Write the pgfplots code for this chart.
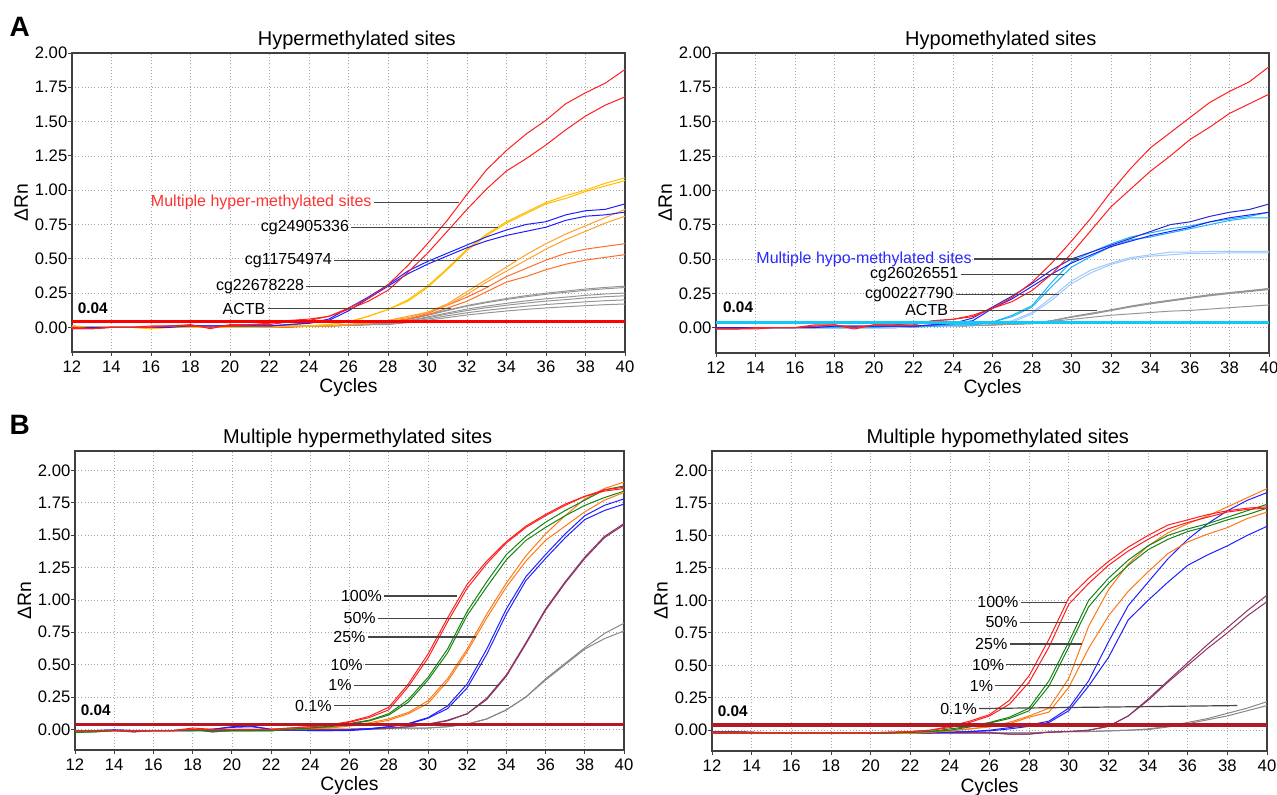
\documentclass[border=0pt]{standalone}
\usepackage{fontspec}
\setmainfont{Liberation Sans}
\usepackage{pgfplots}
\usepackage{pgfplotstable}
\pgfplotsset{compat=1.18}

\definecolor{cRed}{RGB}{255,30,30}
\definecolor{cBlue}{RGB}{30,30,255}
\definecolor{cGold}{RGB}{255,190,0}
\definecolor{cLOr}{RGB}{255,160,40}
\definecolor{cDOr}{RGB}{255,110,40}
\definecolor{cGray}{RGB}{150,150,150}
\definecolor{cCyan}{RGB}{30,180,245}
\definecolor{cPale}{RGB}{160,200,250}
\definecolor{cNavy}{RGB}{40,40,210}
\definecolor{cThrA}{RGB}{255,0,0}
\definecolor{cThrC}{RGB}{20,200,245}
\definecolor{cGreen}{RGB}{20,130,20}
\definecolor{cOrange}{RGB}{255,120,20}
\definecolor{cPurple}{RGB}{140,50,100}
\definecolor{cThrB}{RGB}{180,25,35}
\definecolor{cAnn}{RGB}{70,70,70}
\definecolor{cHyper}{RGB}{255,50,50}
\definecolor{cHypo}{RGB}{40,40,255}

% Panel A left: Hypermethylated sites
\pgfplotstableread{
c r1 r2 b1 b2 y1 y2 o1 o2 d1 d2 g1 g2 g3 g4 g5 g6
12 -0.01 0.00 -0.01 -0.01 0.00 0.00 0.01 0.00 0.00 0.01 0.00 0.00 0.00 0.00 0.00 0.00
13 -0.01 -0.01 0.00 -0.01 0.00 0.00 0.00 0.00 0.00 0.00 0.00 0.00 0.00 0.00 0.00 0.00
14 0.00 0.00 0.00 0.00 0.00 0.00 0.00 0.00 0.00 0.00 0.00 0.00 0.00 0.00 0.00 0.00
15 0.00 0.00 0.00 0.00 0.00 0.00 0.00 0.00 0.00 0.00 0.00 0.00 0.00 0.00 0.00 0.00
16 0.00 0.01 0.00 0.00 -0.01 -0.01 0.00 0.00 0.00 0.00 0.00 0.00 0.00 0.00 0.00 0.00
17 0.01 0.01 0.01 0.00 0.00 0.00 0.00 0.00 0.00 0.00 0.00 0.00 0.00 0.00 0.00 0.00
18 0.02 0.01 0.01 0.01 0.00 0.00 0.00 0.00 0.00 0.00 0.00 0.00 0.00 0.00 0.00 0.00
19 -0.01 0.00 0.01 0.01 0.00 0.00 0.00 0.00 0.00 0.00 0.00 0.00 0.00 0.00 0.00 0.00
20 0.02 0.01 0.01 0.01 0.00 0.00 0.00 0.00 0.00 0.00 0.00 0.00 0.00 0.00 0.00 0.00
21 0.02 0.02 0.01 0.01 0.00 0.00 0.00 0.00 0.00 0.00 0.01 0.00 0.00 0.00 0.00 0.00
22 0.03 0.02 0.01 0.01 0.01 0.01 0.00 0.00 0.00 0.00 0.01 0.01 0.01 0.01 0.01 0.01
23 0.05 0.04 0.02 0.02 0.01 0.01 0.01 0.01 0.00 0.00 0.01 0.01 0.01 0.01 0.01 0.01
24 0.06 0.05 0.03 0.03 0.01 0.01 0.01 0.01 0.01 0.01 0.01 0.01 0.01 0.01 0.01 0.01
25 0.08 0.08 0.06 0.05 0.02 0.02 0.01 0.01 0.01 0.01 0.01 0.01 0.01 0.01 0.01 0.01
26 0.14 0.13 0.14 0.12 0.04 0.04 0.02 0.02 0.02 0.02 0.015 0.015 0.015 0.015 0.015 0.015
27 0.21 0.19 0.22 0.21 0.08 0.08 0.03 0.03 0.03 0.03 0.02 0.02 0.02 0.02 0.02 0.02
28 0.31 0.27 0.31 0.30 0.13 0.13 0.05 0.05 0.04 0.04 0.036 0.035 0.03 0.028 0.024 0.02
29 0.45 0.40 0.41 0.39 0.20 0.19 0.08 0.07 0.06 0.06 0.06 0.058 0.05 0.046 0.04 0.034
30 0.61 0.54 0.48 0.46 0.30 0.29 0.11 0.11 0.10 0.09 0.09 0.087 0.075 0.069 0.06 0.051
31 0.78 0.70 0.54 0.52 0.43 0.42 0.17 0.16 0.16 0.14 0.126 0.122 0.105 0.097 0.084 0.071
32 0.97 0.86 0.60 0.58 0.57 0.56 0.26 0.24 0.22 0.19 0.159 0.154 0.133 0.122 0.106 0.09
33 1.15 1.01 0.66 0.63 0.68 0.67 0.35 0.33 0.29 0.26 0.186 0.18 0.155 0.143 0.124 0.105
34 1.29 1.14 0.71 0.67 0.77 0.76 0.44 0.41 0.37 0.33 0.21 0.203 0.175 0.161 0.14 0.119
35 1.41 1.23 0.75 0.70 0.84 0.83 0.53 0.49 0.43 0.37 0.231 0.223 0.193 0.177 0.154 0.131
36 1.51 1.33 0.77 0.73 0.91 0.90 0.61 0.57 0.49 0.42 0.249 0.241 0.208 0.191 0.166 0.141
37 1.63 1.44 0.82 0.78 0.96 0.94 0.68 0.64 0.54 0.46 0.264 0.255 0.22 0.202 0.176 0.15
38 1.71 1.54 0.85 0.81 1.00 0.99 0.74 0.70 0.57 0.49 0.279 0.27 0.233 0.214 0.186 0.158
39 1.78 1.62 0.86 0.82 1.05 1.03 0.80 0.76 0.59 0.51 0.291 0.281 0.243 0.223 0.194 0.165
40 1.88 1.68 0.90 0.84 1.09 1.07 0.86 0.81 0.61 0.53 0.30 0.29 0.25 0.23 0.20 0.17
}\tA

% Panel A right: Hypomethylated sites
\pgfplotstableread{
c r1 r2 b1 b2 c1 c2 p1 p2 g1 g2 g3 g4
12 -0.01 -0.01 -0.01 0.00 0.00 0.00 0.00 0.00 0.00 0.00 0.00 0.00
13 -0.01 -0.01 -0.01 0.00 0.00 0.00 0.00 0.00 0.00 0.00 0.00 0.00
14 0.00 -0.01 0.00 0.00 0.00 0.00 0.00 0.00 0.00 0.00 0.00 0.00
15 0.00 0.00 0.00 0.00 0.00 0.00 0.00 0.00 0.00 0.00 0.00 0.00
16 0.00 0.00 0.00 0.00 0.00 0.00 0.00 0.00 0.00 0.00 0.00 0.00
17 0.01 0.02 0.01 0.00 0.00 0.00 0.00 0.00 0.00 0.00 0.00 0.00
18 0.02 0.02 0.01 0.01 0.00 0.00 0.00 0.00 0.00 0.00 0.00 0.00
19 -0.01 0.00 0.01 0.01 0.00 0.00 0.00 0.00 0.00 0.00 0.00 0.00
20 0.02 0.02 0.01 0.01 0.01 0.00 0.00 0.00 0.00 0.00 0.00 0.00
21 0.02 0.02 0.01 0.01 0.01 0.01 0.00 0.00 0.00 0.00 0.00 0.00
22 0.03 0.02 0.01 0.01 0.01 0.01 0.01 0.01 0.005 0.005 0.005 0.005
23 0.05 0.05 0.02 0.02 0.01 0.01 0.01 0.01 0.01 0.01 0.01 0.01
24 0.06 0.06 0.03 0.03 0.02 0.02 0.01 0.01 0.01 0.01 0.01 0.01
25 0.09 0.08 0.07 0.05 0.02 0.02 0.02 0.02 0.015 0.015 0.015 0.015
26 0.14 0.14 0.15 0.14 0.04 0.04 0.03 0.03 0.02 0.02 0.02 0.02
27 0.22 0.19 0.23 0.21 0.09 0.08 0.05 0.04 0.025 0.025 0.025 0.025
28 0.33 0.27 0.32 0.30 0.16 0.15 0.11 0.10 0.03 0.03 0.03 0.03
29 0.47 0.39 0.42 0.39 0.33 0.30 0.22 0.20 0.05 0.05 0.05 0.045
30 0.63 0.54 0.50 0.47 0.48 0.44 0.34 0.32 0.08 0.078 0.076 0.06
31 0.80 0.71 0.55 0.53 0.55 0.52 0.42 0.40 0.105 0.10 0.098 0.075
32 0.99 0.88 0.60 0.59 0.61 0.59 0.47 0.46 0.13 0.127 0.124 0.09
33 1.16 1.01 0.65 0.63 0.66 0.64 0.51 0.50 0.157 0.154 0.15 0.10
34 1.31 1.14 0.70 0.67 0.69 0.66 0.53 0.52 0.18 0.177 0.173 0.11
35 1.42 1.25 0.75 0.70 0.72 0.69 0.55 0.53 0.20 0.197 0.193 0.12
36 1.53 1.37 0.77 0.73 0.74 0.72 0.55 0.54 0.22 0.217 0.213 0.125
37 1.64 1.46 0.81 0.77 0.77 0.75 0.555 0.54 0.24 0.236 0.232 0.135
38 1.72 1.56 0.84 0.80 0.79 0.78 0.555 0.545 0.255 0.252 0.248 0.145
39 1.79 1.63 0.86 0.82 0.81 0.80 0.555 0.545 0.27 0.267 0.262 0.155
40 1.90 1.70 0.90 0.84 0.84 0.80 0.555 0.545 0.285 0.282 0.277 0.165
}\tB

% Panel B left: Multiple hypermethylated sites
\pgfplotstableread{
c r1 r2 gr1 gr2 o1 o2 b1 b2 p1 p2 g1 g2
12 -0.01 -0.01 -0.02 -0.025 -0.01 -0.01 -0.01 -0.01 -0.01 -0.01 -0.01 -0.01
13 -0.01 -0.01 -0.02 -0.02 -0.01 -0.01 -0.01 -0.01 -0.01 -0.01 -0.01 -0.01
14 -0.01 -0.01 -0.01 -0.01 -0.01 -0.01 -0.005 -0.005 -0.01 -0.01 -0.01 -0.01
15 -0.01 -0.01 -0.01 -0.01 -0.01 -0.01 -0.01 -0.01 -0.02 -0.02 -0.01 -0.01
16 -0.01 -0.01 -0.01 -0.01 -0.01 -0.01 -0.01 -0.01 -0.01 -0.01 -0.01 -0.01
17 -0.01 -0.01 -0.01 -0.01 -0.01 -0.01 -0.01 -0.01 -0.01 -0.01 -0.01 -0.01
18 0.01 0.00 -0.01 -0.01 0.00 0.00 -0.01 -0.01 0.00 0.00 -0.01 -0.01
19 0.00 0.00 -0.01 -0.01 -0.01 -0.01 0.00 0.00 -0.02 -0.02 -0.01 -0.01
20 0.00 0.00 -0.01 -0.01 -0.01 -0.01 0.02 0.015 -0.01 -0.01 -0.01 -0.01
21 0.00 0.00 -0.01 -0.01 -0.01 -0.01 0.025 0.02 -0.01 -0.01 -0.01 -0.01
22 0.00 0.00 -0.01 -0.01 0.00 0.00 0.00 0.00 -0.01 -0.01 -0.01 -0.01
23 0.01 0.01 0.00 0.00 0.00 0.00 -0.005 -0.005 -0.005 -0.005 -0.005 -0.005
24 0.02 0.02 0.01 0.01 0.005 0.005 -0.01 -0.01 0.00 0.00 -0.005 -0.005
25 0.035 0.03 0.025 0.02 0.015 0.01 -0.01 -0.01 0.00 0.00 0.00 0.00
26 0.06 0.055 0.045 0.04 0.03 0.025 -0.005 -0.01 0.00 0.00 0.00 0.00
27 0.10 0.09 0.07 0.065 0.05 0.04 0.005 0.00 0.005 0.005 0.00 0.00
28 0.17 0.15 0.12 0.11 0.08 0.07 0.02 0.02 0.01 0.01 0.005 0.005
29 0.35 0.33 0.23 0.21 0.13 0.12 0.045 0.04 0.02 0.02 0.01 0.01
30 0.58 0.55 0.40 0.38 0.22 0.20 0.09 0.085 0.04 0.04 0.01 0.01
31 0.86 0.83 0.62 0.59 0.39 0.37 0.18 0.16 0.07 0.065 0.02 0.02
32 1.12 1.09 0.91 0.88 0.62 0.60 0.35 0.32 0.12 0.12 0.04 0.04
33 1.30 1.28 1.14 1.10 0.89 0.86 0.62 0.58 0.24 0.23 0.08 0.08
34 1.45 1.44 1.35 1.31 1.13 1.10 0.93 0.89 0.42 0.41 0.15 0.15
35 1.57 1.56 1.49 1.46 1.34 1.30 1.18 1.15 0.67 0.66 0.25 0.25
36 1.66 1.65 1.60 1.56 1.51 1.46 1.35 1.32 0.93 0.92 0.39 0.38
37 1.74 1.73 1.69 1.65 1.65 1.57 1.51 1.48 1.14 1.13 0.51 0.50
38 1.80 1.80 1.77 1.73 1.78 1.68 1.65 1.62 1.33 1.32 0.63 0.62
39 1.84 1.85 1.85 1.79 1.86 1.77 1.73 1.69 1.49 1.48 0.74 0.70
40 1.86 1.87 1.88 1.84 1.91 1.83 1.78 1.74 1.59 1.58 0.82 0.76
}\tC

% Panel B right: Multiple hypomethylated sites
\pgfplotstableread{
c r1 r2 gr1 gr2 o1 o2 b1 b2 p1 p2 g1 g2
12 -0.02 -0.02 -0.02 -0.02 -0.02 -0.02 -0.02 -0.02 -0.01 -0.01 -0.02 -0.02
13 -0.02 -0.02 -0.02 -0.02 -0.02 -0.02 -0.02 -0.02 -0.01 -0.01 -0.02 -0.02
14 -0.02 -0.02 -0.02 -0.02 -0.02 -0.02 -0.02 -0.02 -0.015 -0.015 -0.02 -0.02
15 -0.02 -0.02 -0.02 -0.02 -0.02 -0.02 -0.02 -0.02 -0.02 -0.02 -0.02 -0.02
16 -0.02 -0.02 -0.02 -0.02 -0.02 -0.02 -0.02 -0.02 -0.02 -0.02 -0.02 -0.02
17 -0.02 -0.02 -0.02 -0.02 -0.02 -0.02 -0.02 -0.02 -0.02 -0.02 -0.02 -0.02
18 -0.02 -0.02 -0.02 -0.02 -0.02 -0.02 -0.02 -0.02 -0.02 -0.02 -0.02 -0.02
19 -0.02 -0.02 -0.02 -0.02 -0.02 -0.02 -0.02 -0.02 -0.02 -0.02 -0.02 -0.02
20 -0.02 -0.02 -0.02 -0.02 -0.02 -0.02 -0.025 -0.025 -0.02 -0.02 -0.02 -0.02
21 -0.015 -0.015 -0.02 -0.02 -0.02 -0.02 -0.02 -0.02 -0.02 -0.02 -0.02 -0.02
22 -0.01 -0.01 -0.015 -0.015 -0.025 -0.025 -0.02 -0.02 -0.02 -0.02 -0.02 -0.02
23 0.00 0.00 -0.01 -0.01 -0.015 -0.015 -0.02 -0.02 -0.02 -0.02 -0.02 -0.02
24 0.03 0.02 0.01 0.00 -0.005 -0.005 -0.015 -0.015 -0.02 -0.02 -0.02 -0.02
25 0.07 0.06 0.03 0.025 0.01 0.01 -0.01 -0.01 -0.02 -0.02 -0.02 -0.02
26 0.12 0.11 0.06 0.055 0.03 0.025 0.00 -0.005 -0.02 -0.02 -0.02 -0.02
27 0.23 0.20 0.10 0.09 0.06 0.05 0.02 0.01 -0.03 -0.03 -0.02 -0.02
28 0.42 0.37 0.17 0.15 0.11 0.10 0.04 0.03 -0.03 -0.03 -0.02 -0.02
29 0.70 0.64 0.38 0.34 0.17 0.14 0.07 0.06 -0.015 -0.015 -0.015 -0.015
30 1.02 0.97 0.68 0.64 0.40 0.33 0.17 0.15 -0.01 -0.01 -0.01 -0.01
31 1.17 1.13 1.00 0.95 0.80 0.63 0.38 0.34 0.00 0.00 -0.01 -0.01
32 1.30 1.27 1.17 1.13 1.08 0.88 0.68 0.56 0.03 0.03 -0.005 -0.005
33 1.41 1.38 1.31 1.27 1.28 1.07 0.96 0.85 0.11 0.11 0.00 0.00
34 1.50 1.47 1.42 1.39 1.42 1.22 1.14 1.00 0.24 0.23 0.01 0.005
35 1.58 1.55 1.50 1.47 1.52 1.36 1.32 1.14 0.38 0.37 0.03 0.025
36 1.62 1.60 1.55 1.53 1.59 1.45 1.47 1.27 0.52 0.50 0.06 0.05
37 1.66 1.64 1.59 1.57 1.65 1.51 1.59 1.35 0.66 0.63 0.09 0.08
38 1.69 1.68 1.64 1.62 1.72 1.56 1.69 1.42 0.79 0.75 0.13 0.11
39 1.71 1.70 1.69 1.66 1.79 1.63 1.77 1.50 0.92 0.88 0.17 0.15
40 1.72 1.71 1.74 1.71 1.86 1.68 1.83 1.57 1.04 0.99 0.22 0.19
}\tD

\pgfplotsset{
  qpcr/.style={
    scale only axis, anchor=south west,
    xmin=12, xmax=40, xtick={12,14,...,40},
    ytick={0,0.25,0.5,0.75,1,1.25,1.5,1.75,2},
    yticklabel style={/pgf/number format/fixed, /pgf/number format/fixed zerofill, /pgf/number format/precision=2, xshift=3pt},
    /pgf/number format/assume math mode=true,
    grid=major, grid style={dotted, black!35, line width=0.5pt},
    tick align=outside, xtick pos=left, ytick pos=left,
    major tick length=3pt,
    every tick/.style={black!75, line width=0.6pt},
    axis line style={black!75, line width=0.9pt},
    tick label style={font=\fontsize{12.5}{14}\selectfont},
    label style={font=\fontsize{14.5}{16}\selectfont},
    xlabel={Cycles}, ylabel={ΔRn},
    xlabel style={at={(axis description cs:0.5,-0.12)}, anchor=center},
    ylabel style={at={(axis description cs:-0.092,0.5)}, anchor=center},
    title style={at={(0.515,1)}, anchor=base, font=\fontsize{15}{17}\selectfont},
    every axis plot/.append style={no marks, line width=0.75pt},
  },
}
\tikzset{
  ann/.style={font=\fontsize{12}{14}\selectfont, inner sep=1.5pt, anchor=east},
  thr/.style={font=\bfseries\fontsize{11.5}{13}\selectfont, inner sep=0pt, anchor=base west},
}

\begin{document}
\begin{tikzpicture}
\useasboundingbox (0,0) rectangle (957.75pt,595.5pt);

\node[anchor=base west, font=\bfseries\fontsize{21}{24}\selectfont, inner sep=0pt] at (7pt,567.75pt) {A};
\node[anchor=base west, font=\bfseries\fontsize{21}{24}\selectfont, inner sep=0pt] at (7pt,270pt) {B};

% ---------- A left ----------
\begin{axis}[qpcr, at={(54pt,331.5pt)}, width=414.75pt, height=224.25pt,
  ymin=-0.18, ymax=2.0, title={Hypermethylated sites}]
\addplot[cGray] table[x=c,y=g1]{\tA};
\addplot[cGray] table[x=c,y=g2]{\tA};
\addplot[cGray] table[x=c,y=g3]{\tA};
\addplot[cGray] table[x=c,y=g4]{\tA};
\addplot[cGray] table[x=c,y=g5]{\tA};
\addplot[cGray] table[x=c,y=g6]{\tA};
\addplot[cDOr] table[x=c,y=d1]{\tA};
\addplot[cDOr] table[x=c,y=d2]{\tA};
\addplot[cLOr] table[x=c,y=o1]{\tA};
\addplot[cLOr] table[x=c,y=o2]{\tA};
\addplot[cGold] table[x=c,y=y1]{\tA};
\addplot[cGold] table[x=c,y=y2]{\tA};
\addplot[cBlue] table[x=c,y=b1]{\tA};
\addplot[cBlue] table[x=c,y=b2]{\tA};
\addplot[cRed] table[x=c,y=r1]{\tA};
\addplot[cRed] table[x=c,y=r2]{\tA};
\addplot[cThrA, line width=2.4pt] coordinates {(12,0.04) (40,0.04)};
\draw[cAnn, line width=0.9pt] (axis cs:27.28,0.91) -- (axis cs:31.6,0.91);
\node[ann, text=cHyper] at (axis cs:27.28,0.91) {Multiple hyper-methylated sites};
\draw[cAnn, line width=0.9pt] (axis cs:26.14,0.73) -- (axis cs:33.55,0.73);
\node[ann] at (axis cs:26.14,0.73) {cg24905336};
\draw[cAnn, line width=0.9pt] (axis cs:25.27,0.49) -- (axis cs:34.48,0.49);
\node[ann] at (axis cs:25.27,0.49) {cg11754974};
\draw[cAnn, line width=0.9pt] (axis cs:23.87,0.30) -- (axis cs:33.11,0.30);
\node[ann] at (axis cs:23.87,0.30) {cg22678228};
\draw[cAnn, line width=0.9pt] (axis cs:21.9,0.137) -- (axis cs:31.17,0.137);
\node[ann] at (axis cs:21.9,0.137) {ACTB};
\node[thr] at (axis cs:12.28,0.10) {0.04};
\end{axis}

% ---------- A right ----------
\begin{axis}[qpcr, at={(537pt,330.75pt)}, width=414.75pt, height=225pt,
  ymin=-0.185, ymax=2.0, title={Hypomethylated sites}]
\addplot[cGray] table[x=c,y=g1]{\tB};
\addplot[cGray] table[x=c,y=g2]{\tB};
\addplot[cGray] table[x=c,y=g3]{\tB};
\addplot[cGray] table[x=c,y=g4]{\tB};
\addplot[cPale] table[x=c,y=p1]{\tB};
\addplot[cPale] table[x=c,y=p2]{\tB};
\addplot[cCyan] table[x=c,y=c1]{\tB};
\addplot[cCyan] table[x=c,y=c2]{\tB};
\addplot[cNavy] table[x=c,y=b1]{\tB};
\addplot[cBlue] table[x=c,y=b2]{\tB};
\addplot[cRed] table[x=c,y=r1]{\tB};
\addplot[cRed] table[x=c,y=r2]{\tB};
\addplot[cThrC, line width=2.4pt] coordinates {(12,0.04) (40,0.04)};
\draw[cAnn, line width=0.9pt] (axis cs:25.06,0.50) -- (axis cs:30.38,0.50);
\node[ann, text=cHypo] at (axis cs:25.06,0.50) {Multiple hypo-methylated sites};
\draw[cAnn, line width=0.9pt] (axis cs:24.38,0.385) -- (axis cs:29.6,0.385);
\node[ann] at (axis cs:24.38,0.385) {cg26026551};
\draw[cAnn, line width=0.9pt] (axis cs:24.13,0.239) -- (axis cs:29.39,0.239);
\node[ann] at (axis cs:24.13,0.239) {cg00227790};
\draw[cAnn, line width=0.9pt] (axis cs:23.86,0.126) -- (axis cs:31.27,0.126);
\node[ann] at (axis cs:23.86,0.126) {ACTB};
\node[thr] at (axis cs:12.35,0.107) {0.04};
\end{axis}

% ---------- B left ----------
\begin{axis}[qpcr, at={(56.25pt,33pt)}, width=411.75pt, height=224.25pt,
  ymin=-0.16, ymax=2.15, title={Multiple hypermethylated sites}]
\addplot[cGray!90!black] table[x=c,y=g1]{\tC};
\addplot[cGray!90!black] table[x=c,y=g2]{\tC};
\addplot[cPurple] table[x=c,y=p1]{\tC};
\addplot[cPurple] table[x=c,y=p2]{\tC};
\addplot[cBlue] table[x=c,y=b1]{\tC};
\addplot[cBlue] table[x=c,y=b2]{\tC};
\addplot[cOrange] table[x=c,y=o1]{\tC};
\addplot[cOrange] table[x=c,y=o2]{\tC};
\addplot[cGreen] table[x=c,y=gr1]{\tC};
\addplot[cGreen] table[x=c,y=gr2]{\tC};
\addplot[cRed] table[x=c,y=r1]{\tC};
\addplot[cRed] table[x=c,y=r2]{\tC};
\addplot[cThrB, line width=2.4pt] coordinates {(12,0.04) (40,0.04)};
\draw[cAnn, line width=0.9pt] (axis cs:27.77,1.03) -- (axis cs:31.47,1.03);
\node[ann] at (axis cs:27.77,1.03) {100\%};
\draw[cAnn, line width=0.9pt] (axis cs:27.45,0.857) -- (axis cs:31.83,0.857);
\node[ann] at (axis cs:27.45,0.857) {50\%};
\draw[cAnn, line width=0.9pt] (axis cs:26.93,0.713) -- (axis cs:32.45,0.713);
\node[ann] at (axis cs:26.93,0.713) {25\%};
\draw[cAnn, line width=0.9pt] (axis cs:26.79,0.50) -- (axis cs:32.81,0.50);
\node[ann] at (axis cs:26.79,0.50) {10\%};
\draw[cAnn, line width=0.9pt] (axis cs:26.22,0.34) -- (axis cs:33.64,0.34);
\node[ann] at (axis cs:26.22,0.34) {1\%};
\draw[cAnn, line width=0.9pt] (axis cs:25.2,0.183) -- (axis cs:34.12,0.183);
\node[ann] at (axis cs:25.2,0.183) {0.1\%};
\node[thr] at (axis cs:12.28,0.108) {0.04};
\end{axis}

% ---------- B right ----------
\begin{axis}[qpcr, at={(534pt,32.25pt)}, width=416.25pt, height=225pt,
  ymin=-0.16, ymax=2.15, title={Multiple hypomethylated sites}]
\addplot[cGray!90!black] table[x=c,y=g1]{\tD};
\addplot[cGray!90!black] table[x=c,y=g2]{\tD};
\addplot[cPurple] table[x=c,y=p1]{\tD};
\addplot[cPurple] table[x=c,y=p2]{\tD};
\addplot[cBlue] table[x=c,y=b1]{\tD};
\addplot[cBlue] table[x=c,y=b2]{\tD};
\addplot[cOrange] table[x=c,y=o1]{\tD};
\addplot[cOrange] table[x=c,y=o2]{\tD};
\addplot[cGreen] table[x=c,y=gr1]{\tD};
\addplot[cGreen] table[x=c,y=gr2]{\tD};
\addplot[cRed] table[x=c,y=r1]{\tD};
\addplot[cRed] table[x=c,y=r2]{\tD};
\addplot[cThrB, line width=2.4pt] coordinates {(12,0.04) (40,0.04)};
\draw[cAnn, line width=0.9pt] (axis cs:27.57,0.986) -- (axis cs:29.9,0.986);
\node[ann] at (axis cs:27.57,0.986) {100\%};
\draw[cAnn, line width=0.9pt] (axis cs:27.53,0.83) -- (axis cs:30.52,0.83);
\node[ann] at (axis cs:27.53,0.83) {50\%};
\draw[cAnn, line width=0.9pt] (axis cs:27.01,0.664) -- (axis cs:30.66,0.664);
\node[ann] at (axis cs:27.01,0.664) {25\%};
\draw[cAnn, line width=0.9pt] (axis cs:26.85,0.504) -- (axis cs:31.59,0.504);
\node[ann] at (axis cs:26.85,0.504) {10\%};
\draw[cAnn, line width=0.9pt] (axis cs:26.29,0.342) -- (axis cs:34.74,0.342);
\node[ann] at (axis cs:26.29,0.342) {1\%};
\draw[cAnn, line width=0.9pt] (axis cs:25.47,0.167) -- (axis cs:38.51,0.19);
\node[ann] at (axis cs:25.47,0.167) {0.1\%};
\node[thr] at (axis cs:12.28,0.108) {0.04};
\end{axis}
\end{tikzpicture}
\end{document}
